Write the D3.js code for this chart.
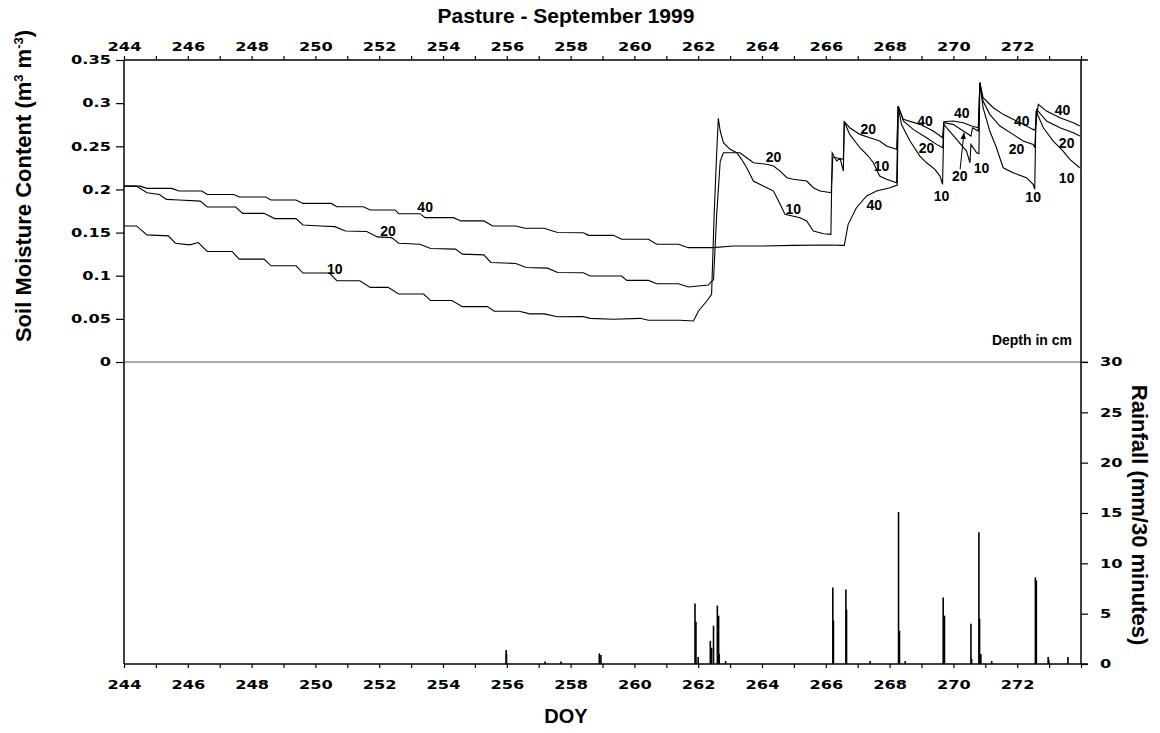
<!DOCTYPE html>
<html>
<head>
<meta charset="utf-8">
<script src="https://cdn.jsdelivr.net/npm/d3@7"></script>
<style>
  body { margin: 0; background: #fff; }
  .tick text { font-family: "DejaVu Sans", sans-serif; font-weight: bold; font-size: 12px; }
  .ttl { font-family: "Liberation Sans", Arial, sans-serif; font-weight: bold; }
  .lab { font-family: "Liberation Sans", Arial, sans-serif; font-weight: bold; font-size: 14px; }
</style>
</head>
<body>
<svg id="chart" width="1160" height="733"></svg>
<script>
// soil moisture (m3 m-3) by depth, [DOY, value]
var depth10 = [
  [244.00,0.1577],[244.39,0.1577],[244.72,0.1473],[245.39,0.1462],[245.61,0.1377],[246.06,0.1358],
  [246.33,0.1385],[246.61,0.1281],[247.39,0.1281],[247.61,0.1192],[248.39,0.1192],[248.61,0.1115],
  [249.39,0.1115],[249.61,0.1031],[250.44,0.1031],[250.67,0.0942],[251.39,0.0942],[251.72,0.0865],
  [252.28,0.0865],[252.61,0.0788],[253.39,0.0788],[253.61,0.0712],[254.28,0.0712],[254.61,0.0642],
  [255.39,0.0642],[255.61,0.0588],[256.39,0.0588],[256.72,0.0558],[257.17,0.0558],[257.59,0.0525],
  [258.40,0.0528],[258.61,0.0506],[259.34,0.0495],[260.18,0.0506],[260.44,0.0483],[261.43,0.0483],
  [261.85,0.0475],[262.01,0.0591],[262.27,0.0707],[262.42,0.0784],[262.50,0.1711],[262.58,0.2425],
  [262.63,0.2824],[262.69,0.2677],[262.79,0.2541],[263.00,0.2465],[263.21,0.2425],[263.36,0.2349],
  [263.52,0.2251],[263.73,0.2097],[264.15,0.2020],[264.36,0.1981],[264.57,0.1827],[264.72,0.1711],
  [265.19,0.1672],[265.40,0.1634],[265.61,0.1518],[265.93,0.1487],[266.16,0.1480],[266.20,0.2425],
  [266.34,0.2329],[266.45,0.2360],[266.55,0.2213],[266.58,0.2785],[266.75,0.2638],[267.07,0.2483],
  [267.33,0.2387],[267.49,0.2309],[267.69,0.2155],[267.90,0.2117],[268.22,0.2078],[268.27,0.2966],
  [268.37,0.2754],[268.64,0.2561],[268.95,0.2387],[269.16,0.2309],[269.42,0.2233],[269.58,0.2155],
  [269.66,0.2059],[269.70,0.2754],[270.10,0.2580],[270.41,0.2445],[270.52,0.2309],[270.55,0.2522],
  [270.73,0.2425],[270.80,0.2414],[270.83,0.3237],[270.93,0.2947],[271.14,0.2677],[271.35,0.2483],
  [271.56,0.2251],[271.87,0.2194],[272.29,0.2136],[272.50,0.2059],[272.55,0.2001],[272.59,0.2908],
  [272.82,0.2715],[273.13,0.2561],[273.44,0.2445],[273.65,0.2349],[273.96,0.2251]
];
var depth20 = [
  [244.00,0.2038],[244.39,0.2038],[244.72,0.1962],[245.11,0.1942],[245.33,0.1885],[245.72,0.1877],
  [246.39,0.1865],[246.61,0.1796],[247.50,0.1796],[247.72,0.1723],[248.39,0.1723],[248.72,0.1662],
  [249.39,0.1662],[249.61,0.1588],[250.17,0.1577],[250.61,0.1569],[250.94,0.1519],[251.61,0.1512],
  [251.94,0.1450],[252.39,0.1442],[252.61,0.1377],[253.28,0.1365],[253.61,0.1315],[254.39,0.1308],
  [254.61,0.1250],[255.28,0.1242],[255.50,0.1154],[256.28,0.1142],[256.61,0.1096],[257.28,0.1088],
  [257.59,0.1038],[258.40,0.1035],[258.61,0.0997],[259.60,0.0997],[259.76,0.0946],[260.44,0.0946],
  [260.70,0.0907],[261.38,0.0907],[261.69,0.0869],[262.32,0.0892],[262.42,0.0938],[262.48,0.0950],
  [262.58,0.1711],[262.69,0.2329],[262.79,0.2425],[263.31,0.2425],[263.52,0.2367],[263.73,0.2309],
  [264.15,0.2291],[264.36,0.2271],[264.57,0.2213],[264.78,0.2136],[264.98,0.2117],[265.40,0.2097],
  [265.61,0.2020],[265.82,0.1981],[266.17,0.1962],[266.22,0.2375],[266.55,0.2349],[266.58,0.2785],
  [266.75,0.2715],[267.07,0.2638],[267.38,0.2599],[267.69,0.2561],[267.90,0.2503],[268.22,0.2465],
  [268.27,0.2966],[268.43,0.2793],[268.74,0.2696],[269.16,0.2599],[269.47,0.2522],[269.67,0.2483],
  [269.70,0.2773],[269.99,0.2754],[270.31,0.2677],[270.55,0.2619],[270.60,0.2715],[270.78,0.2677],
  [270.83,0.3237],[270.93,0.3024],[271.14,0.2870],[271.46,0.2735],[271.87,0.2638],[272.19,0.2561],
  [272.50,0.2522],[272.55,0.2483],[272.61,0.2928],[272.92,0.2793],[273.34,0.2715],[273.76,0.2657],
  [273.96,0.2619]
];
var depth40 = [
  [244.00,0.2038],[244.50,0.2038],[244.72,0.2012],[245.50,0.2012],[245.72,0.1981],[246.44,0.1981],
  [246.61,0.1942],[247.44,0.1942],[247.61,0.1912],[248.44,0.1912],[248.61,0.1877],[249.39,0.1877],
  [249.61,0.1838],[250.50,0.1838],[250.67,0.1800],[251.50,0.1800],[251.72,0.1762],[252.50,0.1762],
  [252.61,0.1719],[253.28,0.1719],[253.44,0.1673],[254.33,0.1673],[254.56,0.1635],[255.28,0.1635],
  [255.56,0.1577],[256.28,0.1577],[256.56,0.1550],[257.17,0.1550],[257.59,0.1500],[258.40,0.1498],
  [258.56,0.1468],[259.34,0.1468],[259.60,0.1422],[260.44,0.1422],[260.70,0.1364],[261.38,0.1364],
  [261.69,0.1325],[262.48,0.1325],[263.10,0.1344],[263.94,0.1344],[264.98,0.1352],[266.03,0.1356],
  [266.58,0.1352],[266.70,0.1595],[266.96,0.1788],[267.28,0.1924],[267.59,0.1981],[268.01,0.2020],
  [268.24,0.2051],[268.27,0.2966],[268.43,0.2812],[268.95,0.2754],[269.37,0.2677],[269.66,0.2599],
  [269.70,0.2785],[269.99,0.2793],[270.31,0.2773],[270.57,0.2735],[270.78,0.2715],[270.83,0.3237],
  [270.93,0.3063],[271.25,0.2947],[271.56,0.2870],[271.87,0.2812],[272.19,0.2754],[272.50,0.2696],
  [272.56,0.2689],[272.66,0.2986],[272.92,0.2908],[273.34,0.2831],[273.76,0.2773],[273.96,0.2735]
];

// rainfall, mm per 30 minutes
var rainDoy = [255.98,255.99,257.20,257.70,258.90,258.95,261.90,261.93,262.00,262.38,262.42,262.48,
               262.60,262.64,262.66,262.86,266.22,266.24,266.63,266.65,267.39,268.28,268.31,268.49,
               269.68,269.72,270.55,270.57,270.80,270.82,270.86,271.20,272.57,272.60,272.97,272.99,273.59];
var rainMm  = [1.4,1.0,0.25,0.25,1.05,0.9,6.0,4.2,0.7,2.3,1.6,3.8,
               5.8,4.8,1.0,0.3,7.6,4.3,7.4,5.4,0.3,15.1,3.3,0.3,
               6.6,4.8,4.0,0.5,13.1,4.5,1.0,0.3,8.6,8.3,0.7,0.4,0.7];

// depth labels placed next to the curves
var labelText = ['40','20','10','20','10','20','10','40','40','20','10','40','20','10','40','20','10','40','20','10'];
var labelDoy  = [253.44,252.28,250.61,264.36,264.98,267.33,267.75,267.52,269.11,269.16,269.63,270.26,270.20,270.88,272.14,271.98,272.50,273.42,273.55,273.55];
var labelVal  = [0.1796,0.1519,0.1077,0.2375,0.1777,0.2696,0.2271,0.1819,0.2793,0.2483,0.1924,0.2882,0.2155,0.2251,0.2793,0.2465,0.1912,0.2920,0.2541,0.2128];

var doyTicks = d3.range(244, 275);
var soilTicks = [0, 0.05, 0.1, 0.15, 0.2, 0.25, 0.3, 0.35];
var rainTicks = [0, 5, 10, 15, 20, 25, 30];

var plotL = 124, plotR = 1081, plotT = 60, plotM = 362, plotB = 664;
var sx = 1.35; // wide tick font

var svg = d3.select('#chart');

var x = d3.scaleLinear().domain([244, 274]).range([plotL, plotR]);
var ySoil = d3.scaleLinear().domain([0, 0.35]).range([plotM, plotT]);
var yRain = d3.scaleLinear().domain([0, 30]).range([plotB, plotM]);

// zero line between the two panels
svg.append('line')
  .attr('x1', plotL).attr('x2', plotR + 7)
  .attr('y1', plotM).attr('y2', plotM)
  .attr('stroke', '#8c8c8c').attr('stroke-width', 1.5);

// top axis
var gTop = svg.append('g')
  .attr('transform', 'translate(0,' + plotT + ')')
  .call(d3.axisTop(x).tickValues(doyTicks).tickSize(4).tickSizeOuter(0)
    .tickFormat(function(d) { return (d % 2 === 0 && d < 274) ? d : ''; }));

// bottom axis
var gBot = svg.append('g')
  .attr('transform', 'translate(0,' + plotB + ')')
  .call(d3.axisBottom(x).tickValues(doyTicks).tickSize(4).tickSizeOuter(0)
    .tickFormat(function(d) { return (d % 2 === 0 && d < 274) ? d : ''; }));

[gTop, gBot].forEach(function(g) {
  g.select('.domain').attr('d', 'M' + plotL + ',0H' + (plotR + 7));
  g.selectAll('.tick text').attr('transform', 'scale(' + sx + ',1)');
});
gTop.selectAll('.tick text').attr('y', -9);
gBot.selectAll('.tick text').attr('y', 16);

// left axis (soil moisture)
var gLeft = svg.append('g')
  .attr('transform', 'translate(' + plotL + ',0)')
  .call(d3.axisLeft(ySoil).tickValues(soilTicks).tickSize(8).tickSizeOuter(0)
    .tickFormat(function(d) { return d === 0 ? '0' : String(+d.toFixed(2)); }));
gLeft.select('.domain').remove();
gLeft.selectAll('.tick text').attr('x', -13 / sx).attr('transform', 'scale(' + sx + ',1)');

// right axis (rainfall)
var gRight = svg.append('g')
  .attr('transform', 'translate(' + plotR + ',0)')
  .call(d3.axisRight(yRain).tickValues(rainTicks).tickSize(7).tickSizeOuter(0));
gRight.select('.domain').remove();
gRight.selectAll('.tick text').attr('x', 19 / sx).attr('transform', 'scale(' + sx + ',1)');

svg.selectAll('.tick line').attr('stroke-width', 1.2);
svg.selectAll('.domain').attr('stroke-width', 1.5);

// frame verticals over both panels
svg.append('line').attr('x1', plotL).attr('x2', plotL).attr('y1', plotT).attr('y2', plotB)
  .attr('stroke', '#000').attr('stroke-width', 1.5);
svg.append('line').attr('x1', plotR).attr('x2', plotR).attr('y1', plotT).attr('y2', plotB)
  .attr('stroke', '#000').attr('stroke-width', 1.5);

// soil moisture lines
var line = d3.line()
  .x(function(d) { return x(d[0]); })
  .y(function(d) { return ySoil(d[1]); });

[depth40, depth20, depth10].forEach(function(s) {
  svg.append('path')
    .datum(s)
    .attr('fill', 'none')
    .attr('stroke', '#000')
    .attr('stroke-width', 1.1)
    .attr('d', line);
});

// rainfall bars
svg.selectAll('.rain')
  .data(rainDoy)
  .enter().append('line')
  .attr('class', 'rain')
  .attr('x1', function(d) { return x(d); })
  .attr('x2', function(d) { return x(d); })
  .attr('y1', yRain(0))
  .attr('y2', function(d, i) { return yRain(rainMm[i]); })
  .attr('stroke', '#000')
  .attr('stroke-width', 1.6);

// depth labels
svg.selectAll('.lab')
  .data(labelText)
  .enter().append('text')
  .attr('class', 'lab')
  .attr('x', function(d, i) { return x(labelDoy[i]); })
  .attr('y', function(d, i) { return ySoil(labelVal[i]); })
  .attr('dy', '0.35em')
  .attr('text-anchor', 'middle')
  .text(function(d) { return d; });

// arrow from the lone "20" label up to its curve
svg.append('defs').append('marker')
  .attr('id', 'arr').attr('viewBox', '0 0 10 10')
  .attr('refX', 9).attr('refY', 5)
  .attr('markerWidth', 7).attr('markerHeight', 7)
  .attr('orient', 'auto')
  .append('path').attr('d', 'M0,1L10,5L0,9Z').attr('fill', '#000');
svg.append('line')
  .attr('x1', x(270.21)).attr('y1', ySoil(0.2233))
  .attr('x2', x(270.33)).attr('y2', ySoil(0.2655))
  .attr('stroke', '#000').attr('stroke-width', 1)
  .attr('marker-end', 'url(#arr)');

// titles
svg.append('text').attr('class', 'ttl')
  .attr('x', 566).attr('y', 23).attr('text-anchor', 'middle')
  .style('font-size', '21px')
  .text('Pasture - September 1999');

svg.append('text').attr('class', 'ttl')
  .attr('x', 566).attr('y', 723).attr('text-anchor', 'middle')
  .style('font-size', '20px')
  .text('DOY');

svg.append('text').attr('class', 'ttl')
  .attr('x', 1072).attr('y', 345).attr('text-anchor', 'end')
  .style('font-size', '14px')
  .text('Depth in cm');

var yl = svg.append('text').attr('class', 'ttl')
  .attr('transform', 'translate(31,186) rotate(-90)')
  .attr('text-anchor', 'middle')
  .style('font-size', '22px');
yl.append('tspan').text('Soil Moisture Content (m');
yl.append('tspan').attr('dy', -8).style('font-size', '13px').text('3');
yl.append('tspan').attr('dy', 8).text(' m');
yl.append('tspan').attr('dy', -8).style('font-size', '13px').text('-3');
yl.append('tspan').attr('dy', 8).text(')');

svg.append('text').attr('class', 'ttl')
  .attr('transform', 'translate(1132,515) rotate(90)')
  .attr('text-anchor', 'middle')
  .style('font-size', '22px')
  .text('Rainfall (mm/30 minutes)');
</script>
</body>
</html>
